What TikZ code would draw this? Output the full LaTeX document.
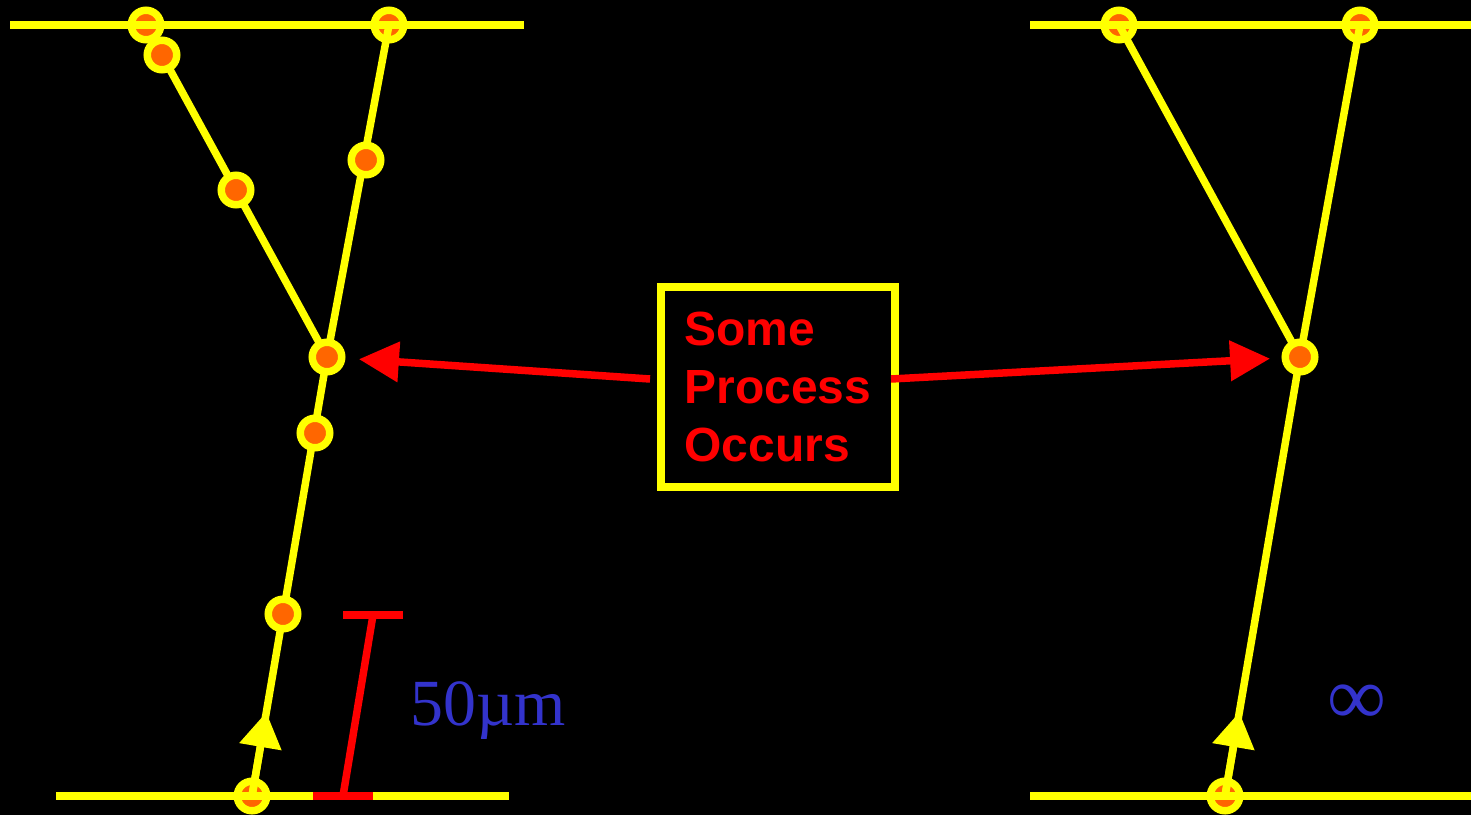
\documentclass[tikz,border=0pt]{standalone}
\usepackage{fontspec}
\setmainfont{Liberation Serif}
\newfontfamily\boxfont{Liberation Sans}
\usetikzlibrary{arrows.meta,calc}
\definecolor{dotorange}{HTML}{FF6600}
\definecolor{ylw}{HTML}{FFFF00}
\definecolor{rd}{HTML}{FF0000}
\definecolor{blu}{HTML}{3333CC}
\pgfdeclarelayer{bg}
\pgfdeclarelayer{back}
\pgfdeclarelayer{mid}
\pgfsetlayers{bg,back,mid,main}
\begin{document}
\begin{tikzpicture}[x=0.02cm,y=-0.02cm,
  dot/.style={circle,fill=dotorange,draw=ylw,line width=0.15cm,minimum size=0.59cm,inner sep=0pt},
  yline/.style={draw=ylw,line width=0.15cm},
  rline/.style={draw=rd,line width=0.15cm},
  rarrow/.style={rline,-{Triangle[length=0.8cm,width=0.78cm]}},
  yarrow/.style={yline,-{Triangle[length=0.7cm,width=0.82cm]}},
  procbox/.style={draw=ylw,line width=0.16cm,minimum width=4.68cm,minimum height=4.0cm,inner sep=0pt,align=left,text=rd,font=\boxfont\bfseries\fontsize{27.3pt}{33pt}\selectfont},
  lbl/.style={text=blu,inner sep=0pt,font=\fontsize{37.5pt}{40pt}\selectfont}]
\begin{pgfonlayer}{bg}
\fill[black] (0,0) rectangle (1471,815);
\end{pgfonlayer}
\useasboundingbox (0,0) rectangle (1471,815);
% dots lying on the horizontal lines
\begin{pgfonlayer}{back}
\node[dot] (A) at (146,25) {};
\node[dot] (D) at (389,25) {};
\node[dot] (H) at (252,796) {};
\node[dot] (A2) at (1119,25) {};
\node[dot] (D2) at (1360,25) {};
\node[dot] (H2) at (1225,796) {};
\end{pgfonlayer}
% dots on the tracks
\node[dot] (B) at (162,55) {};
\node[dot] (C) at (236,190) {};
\node[dot] (E) at (366,160) {};
\node[dot] (J) at (327,357) {};
\node[dot] (F) at (315,433) {};
\node[dot] (G) at (283,614) {};
\node[dot] (J2) at (1300,357) {};
% horizontal line end points
\coordinate (tl1) at (10,25);   \coordinate (tl2) at (524,25);
\coordinate (bl1) at (56,796);  \coordinate (bl2) at (509,796);
\coordinate (tr1) at (1030,25); \coordinate (tr2) at (1471,25);
\coordinate (br1) at (1030,796);\coordinate (br2) at (1471,796);
% scale bar
\coordinate (s1) at (343,615); \coordinate (s2) at (403,615);
\coordinate (s3) at (373,615); \coordinate (s4) at (343,796);
\coordinate (s5) at (313,796); \coordinate (s6) at (373,796);
\begin{pgfonlayer}{mid}
\draw[yline] (tl1) -- (tl2);
\draw[yline] (bl1) -- (bl2);
\draw[yline] (tr1) -- (tr2);
\draw[yline] (br1) -- (br2);
\draw[yline] (B.center) -- (J.center);
\draw[yline] (D.center) -- (J.center);
\draw[yline] (J.center) -- (H.center);
\draw[yarrow] (H.center) -- ($(H.center)!1.7cm!(J.center)$);
\draw[yline] (A2.center) -- (J2.center);
\draw[yline] (D2.center) -- (J2.center);
\draw[yline] (J2.center) -- (H2.center);
\draw[yarrow] (H2.center) -- ($(H2.center)!1.7cm!(J2.center)$);
\draw[rline] (s1) -- (s2);
\draw[rline] (s3) -- (s4);
\draw[rline] (s5) -- (s6);
\end{pgfonlayer}
\node[lbl,anchor=base west] (scale) at (410,725) {50µm};
\node[lbl,font=\fontsize{47pt}{50pt}\selectfont] (inf) at (1357,705) {∞};
\node[procbox] (box) at (778,387) {Some\\Process\\Occurs};
\coordinate (ls) at ([shift={(-7,-8)}]box.west);
\coordinate (rs) at ([shift={(-8,-8)}]box.east);
\draw[rarrow,shorten >=0.64cm] (ls) -- (J.center);
\draw[rarrow,shorten >=0.6cm] (rs) -- (J2.center);
\end{tikzpicture}
\end{document}
